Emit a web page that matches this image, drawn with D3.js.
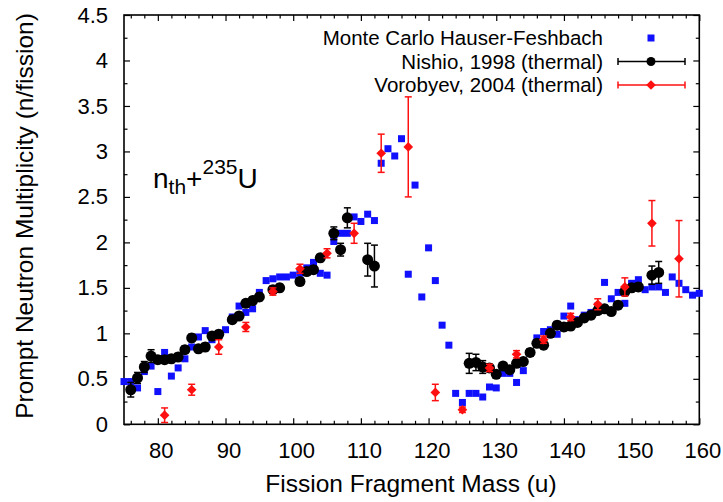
<!DOCTYPE html>
<html>
<head>
<meta charset="utf-8">
<script src="https://cdn.jsdelivr.net/npm/d3@7"></script>
<style>
  body { margin: 0; background: #fff; }
  svg { display: block; font-family: "Liberation Sans", Arial, Helvetica, sans-serif; }
</style>
</head>
<body>
<svg width="723" height="502"></svg>
<script>
// Monte Carlo Hauser-Feshbach (blue squares)
const mchfMass = [75, 76, 77, 78, 79, 80, 81, 82, 83, 84, 85, 86, 87, 88, 89, 90, 91, 92, 93, 94,
  95, 96, 97, 98, 99, 100, 101, 102, 103, 104, 105, 106, 107, 108, 109, 110, 111, 112, 113, 114,
  115, 116, 117, 118, 119, 120, 121, 122, 123, 124, 125, 126, 127, 128, 129, 130, 131, 132, 133, 134,
  135, 136, 137, 138, 139, 140, 141, 142, 143, 144, 145, 146, 147, 148, 149, 150, 151, 152, 153, 154,
  155, 156, 157, 158, 159, 160];
const mchfNu = [0.47, 0.47, 0.40, 0.58, 0.64, 0.36, 0.79, 0.53, 0.62, 0.72, 0.85, 0.96, 1.03, 0.93, 0.98, 1.04, 1.18, 1.30, 1.23, 1.27,
  1.45, 1.58, 1.60, 1.62, 1.62, 1.64, 1.66, 1.72, 1.78, 1.66, 1.64, 2.01, 2.10, 2.10, 2.28, 2.23, 2.31, 2.24, 2.87, 3.03,
  2.95, 3.14, 1.65, 2.63, 1.40, 1.94, 1.58, 1.09, 0.87, 0.34, 0.24, 0.34, 0.34, 0.30, 0.41, 0.40, 0.56, 0.56, 0.46, 0.59,
  0.78, 0.95, 1.02, 1.04, 0.99, 1.19, 1.30, 1.15, 1.20, 1.23, 1.30, 1.56, 1.38, 1.45, 1.33, 1.55, 1.59, 1.48, 1.51, 1.51,
  1.45, 1.62, 1.55, 1.48, 1.42, 1.44];

// Nishio, 1998 (thermal)
const nishioMass = [76, 77, 78, 79, 80, 81, 82, 83, 84, 85, 86, 87, 88, 89, 91, 92, 93, 94, 95, 97,
  98, 101, 102, 103, 104, 106, 107, 108, 111, 112, 126, 127, 128, 129, 130, 131, 132, 133, 134, 135,
  136, 137, 138, 139, 140, 141, 142, 143, 144, 145, 146, 147, 148, 149, 150, 151, 153, 154];
const nishioNu = [0.38, 0.51, 0.63, 0.75, 0.71, 0.71, 0.72, 0.74, 0.82, 0.95, 0.83, 0.85, 0.97, 0.99, 1.15, 1.19, 1.33, 1.36, 1.40, 1.48,
  1.50, 1.57, 1.68, 1.70, 1.83, 2.10, 1.92, 2.27, 1.81, 1.74, 0.67, 0.68, 0.63, 0.62, 0.55, 0.64, 0.60, 0.67, 0.69, 0.79,
  0.89, 0.87, 1.00, 1.09, 1.07, 1.08, 1.12, 1.17, 1.20, 1.25, 1.27, 1.24, 1.31, 1.46, 1.50, 1.51, 1.64, 1.67];
const nishioErr = [0.08, 0.06, 0.06, 0.07, 0.04, 0.04, 0.04, 0.04, 0.04, 0.04, 0.04, 0.04, 0.04, 0.04, 0.04, 0.04, 0.04, 0.04, 0.04, 0.04,
  0.04, 0.04, 0.04, 0.04, 0.04, 0.07, 0.07, 0.11, 0.18, 0.23, 0.11, 0.09, 0.07, 0.04, 0.04, 0.04, 0.04, 0.04, 0.04, 0.04,
  0.04, 0.04, 0.04, 0.04, 0.04, 0.04, 0.04, 0.04, 0.04, 0.04, 0.04, 0.04, 0.04, 0.04, 0.04, 0.04, 0.10, 0.12];

// Vorobyev, 2004 (thermal)
const vorobMass = [81, 85, 89, 93, 97, 101, 105, 109, 113, 117, 121, 125, 129, 133, 137, 141, 145, 149, 153, 157];
const vorobNu = [0.10, 0.38, 0.85, 1.07, 1.46, 1.71, 1.88, 2.10, 2.98, 3.05, 0.35, 0.16, 0.62, 0.77, 0.93, 1.18, 1.32, 1.51, 2.21, 1.82];
const vorobErr = [0.08, 0.06, 0.08, 0.05, 0.04, 0.05, 0.05, 0.11, 0.21, 0.55, 0.09, 0.03, 0.04, 0.04, 0.04, 0.04, 0.06, 0.10, 0.25, 0.42];

const xTicks = [80, 90, 100, 110, 120, 130, 140, 150, 160];
const yTicks = [0, 0.5, 1, 1.5, 2, 2.5, 3, 3.5, 4, 4.5];
const legendLabels = ["Monte Carlo Hauser-Feshbach", "Nishio, 1998 (thermal)", "Vorobyev, 2004 (thermal)"];

const plot = { l: 124, r: 699.3, t: 15, b: 424.3 };
const svg = d3.select("svg");

const x = d3.scaleLinear().domain([75, 160]).range([plot.l, plot.r]);
const y = d3.scaleLinear().domain([0, 4.5]).range([plot.b, plot.t]);

const mchf = mchfMass.map((m, i) => ({ m, v: mchfNu[i] }));
const nishio = nishioMass.map((m, i) => ({ m, v: nishioNu[i], e: nishioErr[i] }));
const vorob = vorobMass.map((m, i) => ({ m, v: vorobNu[i], e: vorobErr[i] }));

// ---------- axes (ticks inward on all four sides) ----------
const xMinor = d3.range(76, 160, 2).filter((d) => d % 10 !== 0);
const yMinor = d3.range(0.25, 4.5, 0.5);

function styleAxis(g) {
  g.select(".domain").remove();
  g.selectAll("line").attr("stroke", "#000").attr("stroke-width", 1.2);
  g.selectAll("text").attr("fill", "#000").attr("font-size", 22)
    .attr("font-family", "'Liberation Sans', Arial, Helvetica, sans-serif");
}

svg.append("g").attr("transform", `translate(0,${plot.b})`)
  .call(d3.axisBottom(x).tickValues(xTicks).tickSize(-6).tickPadding(18))
  .call(styleAxis)
  .selectAll("text").attr("dx", 3);
svg.append("g").attr("transform", `translate(0,${plot.b})`)
  .call(d3.axisBottom(x).tickValues(xMinor).tickSize(-3.5).tickFormat(""))
  .call(styleAxis);
svg.append("g").attr("transform", `translate(0,${plot.t})`)
  .call(d3.axisTop(x).tickValues(xTicks).tickSize(-6).tickFormat(""))
  .call(styleAxis);
svg.append("g").attr("transform", `translate(0,${plot.t})`)
  .call(d3.axisTop(x).tickValues(xMinor).tickSize(-3.5).tickFormat(""))
  .call(styleAxis);

svg.append("g").attr("transform", `translate(${plot.l},0)`)
  .call(d3.axisLeft(y).tickValues(yTicks).tickSize(-6).tickPadding(16).tickFormat(d3.format("~g")))
  .call(styleAxis);
svg.append("g").attr("transform", `translate(${plot.l},0)`)
  .call(d3.axisLeft(y).tickValues(yMinor).tickSize(-3.5).tickFormat(""))
  .call(styleAxis);
svg.append("g").attr("transform", `translate(${plot.r},0)`)
  .call(d3.axisRight(y).tickValues(yTicks).tickSize(-6).tickFormat(""))
  .call(styleAxis);
svg.append("g").attr("transform", `translate(${plot.r},0)`)
  .call(d3.axisRight(y).tickValues(yMinor).tickSize(-3.5).tickFormat(""))
  .call(styleAxis);

svg.append("rect")
  .attr("x", plot.l).attr("y", plot.t)
  .attr("width", plot.r - plot.l).attr("height", plot.b - plot.t)
  .attr("fill", "none").attr("stroke", "#000").attr("stroke-width", 1.6);

// axis titles
svg.append("text")
  .attr("x", 411).attr("y", 492)
  .attr("text-anchor", "middle").attr("font-size", 24.5)
  .text("Fission Fragment Mass (u)");
svg.append("text")
  .attr("transform", "translate(33,216) rotate(-90)")
  .attr("text-anchor", "middle").attr("font-size", 24.5)
  .text("Prompt Neutron Multiplicity (n/fission)");

// ---------- data ----------
const dataG = svg.append("g");

dataG.append("g").selectAll("rect")
  .data(mchf)
  .join("rect")
  .attr("x", (d) => x(d.m) - 3.5)
  .attr("y", (d) => y(d.v) - 3.5)
  .attr("width", 7).attr("height", 7)
  .attr("fill", "#1010ff");

function errorBars(g, data, color, cap) {
  const eb = g.append("g").attr("stroke", color).attr("stroke-width", 1.5);
  eb.selectAll("line.v").data(data).join("line").attr("class", "v")
    .attr("x1", (d) => x(d.m)).attr("x2", (d) => x(d.m))
    .attr("y1", (d) => y(d.v - d.e)).attr("y2", (d) => y(d.v + d.e));
  eb.selectAll("line.lo").data(data).join("line").attr("class", "lo")
    .attr("x1", (d) => x(d.m) - cap).attr("x2", (d) => x(d.m) + cap)
    .attr("y1", (d) => y(d.v - d.e)).attr("y2", (d) => y(d.v - d.e));
  eb.selectAll("line.hi").data(data).join("line").attr("class", "hi")
    .attr("x1", (d) => x(d.m) - cap).attr("x2", (d) => x(d.m) + cap)
    .attr("y1", (d) => y(d.v + d.e)).attr("y2", (d) => y(d.v + d.e));
}

const nishioG = dataG.append("g");
errorBars(nishioG, nishio, "#000", 3.5);
nishioG.selectAll("circle")
  .data(nishio)
  .join("circle")
  .attr("cx", (d) => x(d.m))
  .attr("cy", (d) => y(d.v))
  .attr("r", 5.5)
  .attr("fill", "#000");

const diamond = d3.symbol().type(d3.symbolDiamond2).size(60);
const vorobG = dataG.append("g");
errorBars(vorobG, vorob, "#ff1010", 3.5);
vorobG.selectAll("path")
  .data(vorob)
  .join("path")
  .attr("transform", (d) => `translate(${x(d.m)},${y(d.v)})`)
  .attr("d", diamond)
  .attr("fill", "#ff1010");

// ---------- legend ----------
const legend = svg.append("g");
const rowY = [38, 61.5, 85];
legend.selectAll("text")
  .data(legendLabels)
  .join("text")
  .attr("x", 603).attr("y", (d, i) => rowY[i])
  .attr("dy", "0.35em")
  .attr("text-anchor", "end")
  .attr("font-size", 20.5)
  .text((d) => d);

legend.append("rect").attr("x", 651 - 3.5).attr("y", rowY[0] - 3.5)
  .attr("width", 7).attr("height", 7).attr("fill", "#1010ff");

[["#000", rowY[1]], ["#ff1010", rowY[2]]].forEach(([c, ry], i) => {
  const lg = legend.append("g").attr("stroke", c).attr("stroke-width", 1.5);
  lg.append("line").attr("x1", 618).attr("x2", 685).attr("y1", ry).attr("y2", ry);
  lg.append("line").attr("x1", 618).attr("x2", 618).attr("y1", ry - 3.5).attr("y2", ry + 3.5);
  lg.append("line").attr("x1", 685).attr("x2", 685).attr("y1", ry - 3.5).attr("y2", ry + 3.5);
  if (i === 0) {
    legend.append("circle").attr("cx", 651).attr("cy", ry).attr("r", 4.5).attr("fill", c);
  } else {
    legend.append("path").attr("transform", `translate(651,${ry})`).attr("d", diamond).attr("fill", c);
  }
});

// ---------- annotation ----------
const note = svg.append("text").attr("x", 153).attr("y", 188).attr("font-size", 28);
note.append("tspan").text("n");
note.append("tspan").attr("font-size", 21).attr("dy", 6).text("th");
note.append("tspan").attr("dy", -6).text("+");
note.append("tspan").attr("font-size", 21).attr("dy", -14).text("235");
note.append("tspan").attr("dy", 14).text("U");
</script>
</body>
</html>
